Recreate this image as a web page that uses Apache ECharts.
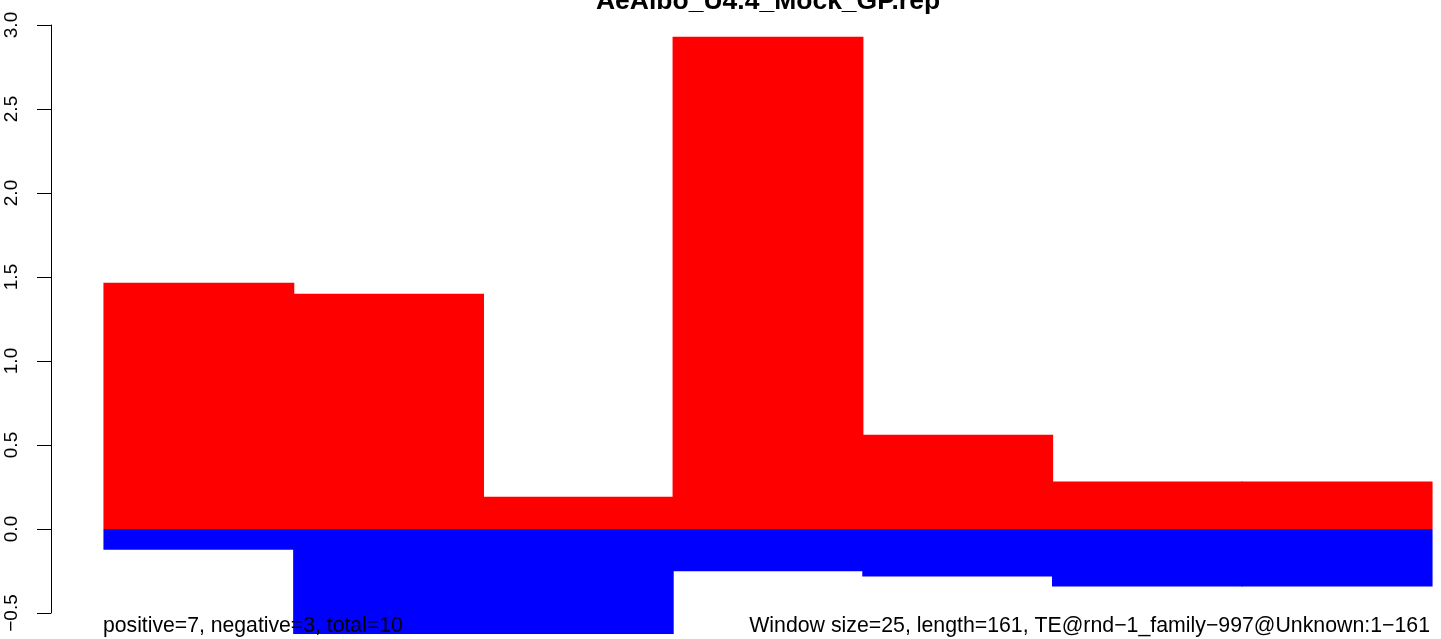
<!DOCTYPE html>
<html>
<head>
<meta charset="utf-8">
<script src="https://cdn.jsdelivr.net/npm/echarts@6/dist/echarts.min.js"></script>
<style>
html,body{margin:0;padding:0;background:#fff;}
#c{width:1441px;height:639px;}
</style>
</head>
<body>
<div id="c"></div>
<script>
// Windows of 25 bp along the 161 bp element
var windows = ['1-25', '26-50', '51-75', '76-100', '101-125', '126-150', '151-175'];
var positiveValues = [1.466, 1.40, 0.192, 2.93, 0.561, 0.282, 0.282];
var negativeValues = [-0.123, -0.625, -0.625, -0.252, -0.282, -0.342, -0.342];
var yTickLabels = ['\u22120.5', '0.0', '0.5', '1.0', '1.5', '2.0', '2.5', '3.0'];
var yTickValues = [-0.5, 0, 0.5, 1, 1.5, 2, 2.5, 3];
var titleText = 'AeAlbo_U4.4_Mock_GP.rep';
var leftNote = 'positive=7, negative=3, total=10';
var rightNote = 'Window size=25, length=161, TE@rnd\u22121_family\u2212997@Unknown:1\u2212161';

var font = '"Liberation Sans", Arial, Helvetica, sans-serif';
var chart = echarts.init(document.getElementById('c'), null, {renderer: 'canvas'});
chart.setOption({
  backgroundColor: '#ffffff',
  animation: false,
  grid: {left: 104, right: 9, top: 25, bottom: 26, containLabel: false},
  xAxis: {
    type: 'category',
    data: windows,
    show: false,
    boundaryGap: true
  },
  yAxis: {
    type: 'value',
    min: -0.5,
    max: 3,
    interval: 0.5,
    offset: 53,
    axisLine: {show: true, lineStyle: {color: '#000', width: 1}},
    axisTick: {show: true, length: 14, lineStyle: {color: '#000', width: 1}},
    splitLine: {show: false},
    axisLabel: {
      rotate: 90,
      margin: 30,
      color: '#000',
      fontFamily: font,
      fontSize: 19,
      formatter: function (v) {
        var i = yTickValues.indexOf(Math.round(v * 10) / 10);
        return i >= 0 ? yTickLabels[i] : '';
      }
    }
  },
  series: [
    {
      type: 'bar',
      stack: 'w',
      data: positiveValues,
      barWidth: '100.6%',
      barGap: '-100%',
      clip: false,
      itemStyle: {color: '#ff0000'}
    },
    {
      type: 'bar',
      stack: 'w',
      data: negativeValues,
      barWidth: '100.6%',
      barGap: '-100%',
      clip: false,
      itemStyle: {color: '#0000ff'}
    }
  ],
  graphic: [
    {
      type: 'text', x: 768, y: 2, z: 100,
      style: {text: titleText, fill: '#000', font: 'bold 26.5px ' + font, textAlign: 'center', textVerticalAlign: 'middle'}
    },
    {
      type: 'text', x: 103, y: 626, z: 100,
      style: {text: leftNote, fill: '#000', font: '21.2px ' + font, textAlign: 'left', textVerticalAlign: 'middle'}
    },
    {
      type: 'text', x: 1430, y: 626, z: 100,
      style: {text: rightNote, fill: '#000', font: '21.3px ' + font, textAlign: 'right', textVerticalAlign: 'middle'}
    }
  ]
});
</script>
</body>
</html>
